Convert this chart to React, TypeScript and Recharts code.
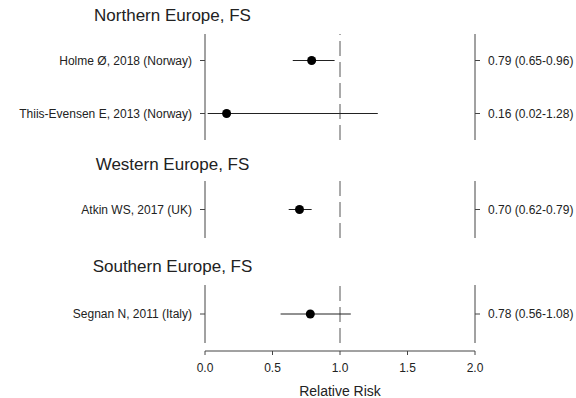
import { ScatterChart, Scatter, XAxis, YAxis, ErrorBar, ReferenceLine } from 'recharts';

// three regions, one study row each except the north
const northStudies = ['Holme Ø, 2018 (Norway)', 'Thiis-Evensen E, 2013 (Norway)'];
const northRR = [0.79, 0.16];
const northLow = [0.65, 0.02];
const northHigh = [0.96, 1.28];

const westStudies = ['Atkin WS, 2017 (UK)'];
const westRR = [0.70];
const westLow = [0.62];
const westHigh = [0.79];

const southStudies = ['Segnan N, 2011 (Italy)'];
const southRR = [0.78];
const southLow = [0.56];
const southHigh = [1.08];

const xTicks = [0, 0.5, 1, 1.5, 2];

const FONT = '"Liberation Sans", Arial, Helvetica, sans-serif';
const INK = '#222';
const AXIS = '#444';

const buildRows = (studies: string[], rr: number[], lo: number[], hi: number[]) =>
  studies.map((s, i) => ({
    study: s,
    rr: rr[i],
    row: studies.length - i, // first study on top
    err: [rr[i] - lo[i], hi[i] - rr[i]],
    text: `${rr[i].toFixed(2)} (${lo[i].toFixed(2)}-${hi[i].toFixed(2)})`,
  }));

const Dot = (props: any) => {
  const { cx, cy } = props;
  if (cx == null || cy == null) return null;
  return <circle cx={cx} cy={cy} r={4.5} fill="#000" />;
};

// plain svg text so long labels never wrap
const makeTick = (format: (v: number) => string, anchor: 'start' | 'end' | 'middle', dx: number, dy: number) =>
  (props: any) => {
    const { x, y, payload } = props;
    return (
      <text x={x + dx} y={y + dy} textAnchor={anchor} dominantBaseline="central"
        fill={INK} fontSize={12} fontFamily={FONT}>
        {format(payload.value)}
      </text>
    );
  };

type PanelProps = {
  title: string;
  titleY: number;
  top: number;
  height: number;
  studies: string[];
  rr: number[];
  lo: number[];
  hi: number[];
};

function Panel({ title, titleY, top, height, studies, rr, lo, hi }: PanelProps) {
  const rows = buildRows(studies, rr, lo, hi);
  const n = rows.length;
  const ticks = rows.map((r) => r.row);
  const leftLabel = (v: number) => rows.find((r) => r.row === v)?.study ?? '';
  const rightLabel = (v: number) => rows.find((r) => r.row === v)?.text ?? '';

  return (
    <>
      <div
        style={{
          position: 'absolute',
          left: 0,
          top: titleY - 10,
          width: 345,
          height: 20,
          lineHeight: '20px',
          textAlign: 'center',
          fontSize: 17,
          color: INK,
          fontFamily: FONT,
        }}
      >
        {title}
      </div>
      <div style={{ position: 'absolute', left: 0, top }}>
        <ScatterChart width={576} height={height} margin={{ top: 0, right: 0, bottom: 0, left: 0 }}>
          <XAxis type="number" dataKey="rr" domain={[0, 2]} hide />
          <YAxis
            yAxisId="left"
            type="number"
            dataKey="row"
            domain={[0.5, n + 0.5]}
            ticks={ticks}
            width={205}
            stroke={AXIS}
            tickSize={5}
            tick={makeTick(leftLabel, 'end', -6, 0)}
          />
          <YAxis
            yAxisId="right"
            orientation="right"
            type="number"
            dataKey="row"
            domain={[0.5, n + 0.5]}
            ticks={ticks}
            width={101}
            stroke={AXIS}
            tickSize={5}
            tick={makeTick(rightLabel, 'start', 6, 0)}
          />
          <ReferenceLine yAxisId="left" x={1} stroke="#555" strokeDasharray="15 6" />
          <Scatter yAxisId="left" data={rows} dataKey="row" shape={<Dot />} isAnimationActive={false}>
            <ErrorBar dataKey="err" direction="x" width={0} stroke={INK} strokeWidth={1} isAnimationActive={false} />
          </Scatter>
          <Scatter yAxisId="right" data={rows} dataKey="row" shape={() => null} isAnimationActive={false} />
        </ScatterChart>
      </div>
    </>
  );
}

export default function App() {
  const southRows = buildRows(southStudies, southRR, southLow, southHigh);
  return (
    <div style={{ position: 'absolute', left: 0, top: 0, width: 576, height: 398, background: '#fff' }}>
      <Panel title="Northern Europe, FS" titleY={16} top={34} height={106}
        studies={northStudies} rr={northRR} lo={northLow} hi={northHigh} />
      <Panel title="Western Europe, FS" titleY={165} top={181} height={57}
        studies={westStudies} rr={westRR} lo={westLow} hi={westHigh} />
      <Panel title="Southern Europe, FS" titleY={267} top={285} height={58}
        studies={southStudies} rr={southRR} lo={southLow} hi={southHigh} />
      <div style={{ position: 'absolute', left: 0, top: 330 }}>
        <ScatterChart width={576} height={68} margin={{ top: 0, right: 101, bottom: 0, left: 205 }}>
          <XAxis
            type="number"
            dataKey="rr"
            domain={[0, 2]}
            ticks={xTicks}
            interval={0}
            height={47}
            stroke={AXIS}
            tickSize={4}
            tick={makeTick((v) => v.toFixed(1), 'middle', 0, 11)}
            label={{ value: 'Relative Risk', position: 'insideBottom', offset: 2, fill: INK, fontSize: 14, fontFamily: FONT }}
          />
          <YAxis type="number" dataKey="row" domain={[0, 2]} hide />
          <Scatter data={southRows} dataKey="row" shape={() => null} isAnimationActive={false} />
        </ScatterChart>
      </div>
    </div>
  );
}
